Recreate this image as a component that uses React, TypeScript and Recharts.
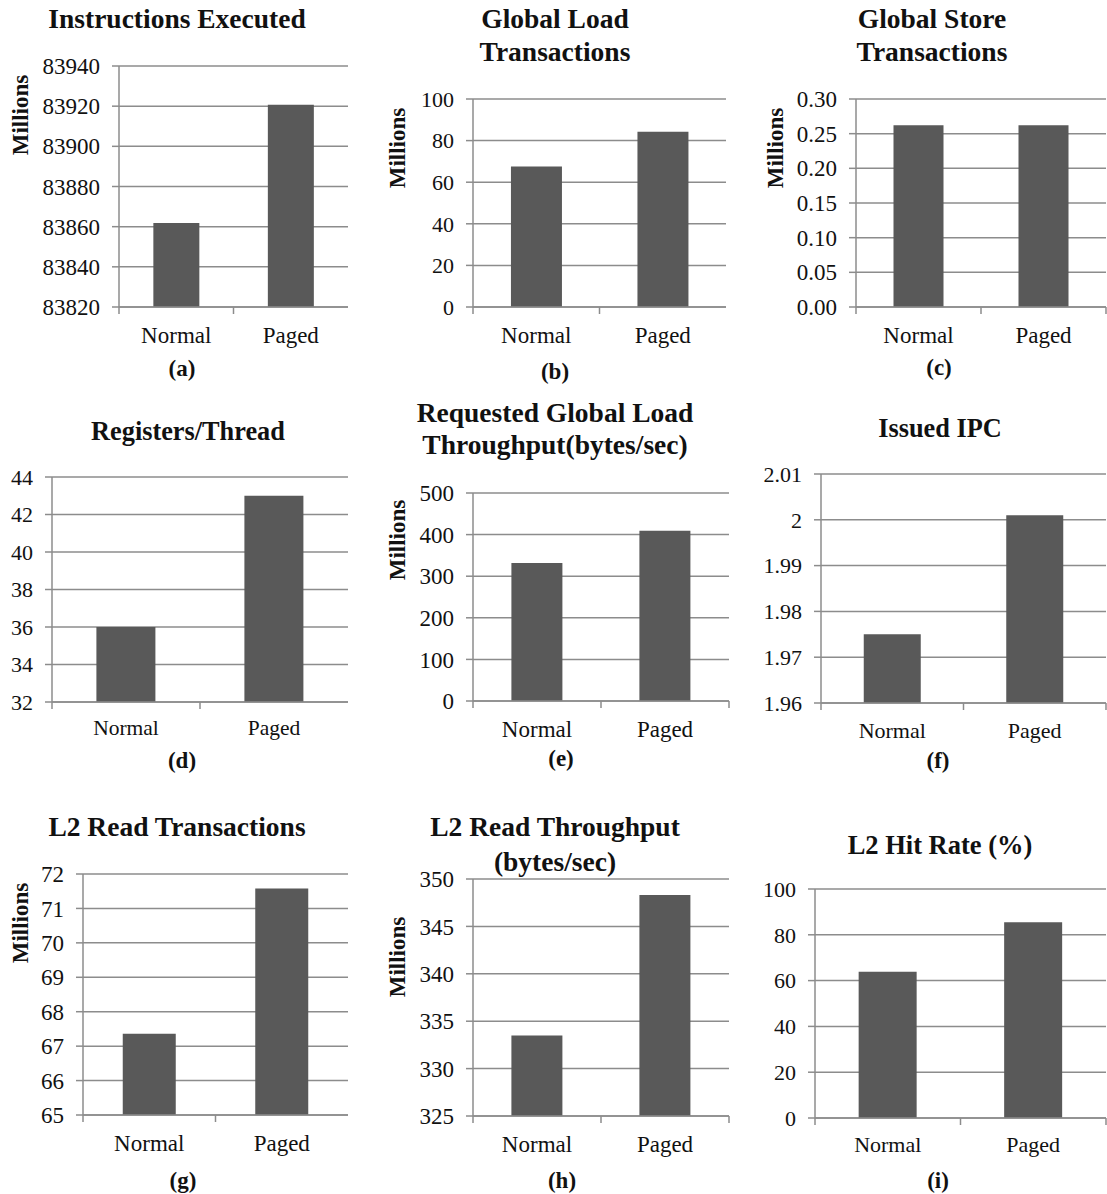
import React from 'react';
import { BarChart, Bar, XAxis, YAxis, CartesianGrid } from 'recharts';

const categories = ['Normal', 'Paged'];

// values (Millions where the panel says so)
const instructionsExecuted = [83861.8, 83920.7];
const globalLoadTransactions = [67.5, 84.3];
const globalStoreTransactions = [0.262, 0.262];
const registersPerThread = [36, 43];
const requestedGlobalLoadThroughput = [332, 409];
const issuedIpc = [1.975, 2.001];
const l2ReadTransactions = [67.36, 71.58];
const l2ReadThroughput = [333.5, 348.3];
const l2HitRate = [63.9, 85.5];

const ticksA = [83820, 83840, 83860, 83880, 83900, 83920, 83940];
const ticksB = [0, 20, 40, 60, 80, 100];
const ticksC = [0, 0.05, 0.1, 0.15, 0.2, 0.25, 0.3];
const ticksD = [32, 34, 36, 38, 40, 42, 44];
const ticksE = [0, 100, 200, 300, 400, 500];
const ticksF = [1.96, 1.97, 1.98, 1.99, 2, 2.01];
const ticksG = [65, 66, 67, 68, 69, 70, 71, 72];
const ticksH = [325, 330, 335, 340, 345, 350];
const ticksI = [0, 20, 40, 60, 80, 100];

const titles = [
  ['Instructions Executed'],
  ['Global Load', 'Transactions'],
  ['Global Store', 'Transactions'],
  ['Registers/Thread'],
  ['Requested Global Load', 'Throughput(bytes/sec)'],
  ['Issued IPC'],
  ['L2 Read Transactions'],
  ['L2 Read Throughput', '(bytes/sec)'],
  ['L2 Hit Rate (%)'],
];
const captions = ['(a)', '(b)', '(c)', '(d)', '(e)', '(f)', '(g)', '(h)', '(i)'];
const hasMillions = [true, true, true, false, true, false, true, true, false];

const FONT = '"Liberation Serif", "Times New Roman", serif';
const GRID = '#8c8c8c';
const BAR = '#595959';
const INK = '#111';

type Layout = {
  x0: number; x1: number; y0: number; y1: number;
  titleX: number; titleY: number[]; titleFont: number;
  capX: number; capY: number;
  millions?: [number, number];
  tickFont: number; catFont: number; catDy: number;
  rightTick?: boolean;
};

const layouts: Layout[] = [
  { x0: 119, x1: 348, y0: 66, y1: 307, titleX: 177, titleY: [19], titleFont: 27.5, capX: 182, capY: 368, millions: [20, 115], tickFont: 23, catFont: 23, catDy: 28 },
  { x0: 473, x1: 726, y0: 99, y1: 307, titleX: 555, titleY: [19, 52], titleFont: 27.5, capX: 555, capY: 371, millions: [397, 148], tickFont: 22, catFont: 23, catDy: 28 },
  { x0: 856, x1: 1106, y0: 99, y1: 307, titleX: 932, titleY: [19, 52], titleFont: 27.5, capX: 939, capY: 367, millions: [775, 148], tickFont: 23, catFont: 23, catDy: 28, rightTick: true },
  { x0: 52, x1: 348, y0: 477, y1: 702, titleX: 188, titleY: [432], titleFont: 26.3, capX: 182, capY: 760, tickFont: 22, catFont: 21.5, catDy: 26 },
  { x0: 473, x1: 729, y0: 493, y1: 701, titleX: 555, titleY: [413, 445], titleFont: 27.5, capX: 561, capY: 758, millions: [397, 540], tickFont: 23, catFont: 23, catDy: 28, rightTick: true },
  { x0: 821, x1: 1106, y0: 474, y1: 703, titleX: 940, titleY: [429], titleFont: 26.3, capX: 938, capY: 760, tickFont: 22, catFont: 22, catDy: 27, rightTick: true },
  { x0: 83, x1: 348, y0: 874, y1: 1115, titleX: 177, titleY: [827], titleFont: 27.5, capX: 183, capY: 1180, millions: [20, 923], tickFont: 23, catFont: 23, catDy: 28 },
  { x0: 473, x1: 729, y0: 879, y1: 1116, titleX: 555, titleY: [827, 862], titleFont: 27.5, capX: 562, capY: 1180, millions: [397, 957], tickFont: 23, catFont: 23, catDy: 28, rightTick: true },
  { x0: 815, x1: 1106, y0: 889, y1: 1118, titleX: 940, titleY: [845], titleFont: 26.5, capX: 938, capY: 1180, tickFont: 22, catFont: 22, catDy: 26, rightTick: true },
];

const series = [
  instructionsExecuted, globalLoadTransactions, globalStoreTransactions,
  registersPerThread, requestedGlobalLoadThroughput, issuedIpc,
  l2ReadTransactions, l2ReadThroughput, l2HitRate,
];
const tickSets = [ticksA, ticksB, ticksC, ticksD, ticksE, ticksF, ticksG, ticksH, ticksI];
const formats: ((v: number) => string)[] = [
  v => String(v), v => String(v), v => v.toFixed(2),
  v => String(v), v => String(v), v => String(v),
  v => String(v), v => String(v), v => String(v),
];

const TICK_LEN = 7;
const TOP_PAD = 20;
const Y_W = 100;

const Txt = ({ x, y, size, bold, rotate, children }: any) => (
  <div
    style={{
      position: 'absolute', left: x, top: y,
      transform: `translate(-50%, -50%)${rotate ? ' rotate(-90deg)' : ''}`,
      whiteSpace: 'nowrap', fontFamily: FONT, fontSize: size, lineHeight: 1,
      fontWeight: bold ? 'bold' : 'normal', color: INK,
    }}
  >
    {children}
  </div>
);

const CategoryTick = (props: any) => {
  const { x, y, payload, index, lay, count } = props;
  const half = payload?.offset || (lay.x1 - lay.x0) / 4;
  const axisY = y - TICK_LEN;
  return (
    <g>
      <line x1={x - half} x2={x - half} y1={axisY} y2={axisY + TICK_LEN} stroke={GRID} strokeWidth={1.5} />
      {lay.rightTick && index === count - 1 && (
        <line x1={x + half} x2={x + half} y1={axisY} y2={axisY + TICK_LEN} stroke={GRID} strokeWidth={1.5} />
      )}
      <text x={x} y={axisY + lay.catDy} textAnchor="middle" dominantBaseline="central"
        fontFamily={FONT} fontSize={lay.catFont} fill={INK}>
        {payload.value}
      </text>
    </g>
  );
};

const Panel = ({ idx }: { idx: number }) => {
  const lay = layouts[idx];
  const ticks = tickSets[idx];
  const data = categories.map((c, i) => ({ name: c, value: series[idx][i] }));
  const width = lay.x1 - lay.x0 + Y_W + 2;
  const height = lay.y1 - lay.y0 + TOP_PAD + 50;
  return (
    <>
      <div style={{ position: 'absolute', left: lay.x0 - Y_W, top: lay.y0 - TOP_PAD }}>
        <BarChart width={width} height={height} data={data}
          margin={{ top: TOP_PAD, right: 2, left: 0, bottom: 0 }} barCategoryGap="30%">
          <CartesianGrid vertical={false} stroke={GRID} strokeWidth={1.5} />
          <XAxis dataKey="name" height={50} interval={0}
            axisLine={{ stroke: GRID, strokeWidth: 1.5 }} tickLine={false}
            tickSize={TICK_LEN} tickMargin={0}
            tick={(p: any) => <CategoryTick {...p} lay={lay} count={categories.length} />} />
          <YAxis width={Y_W} type="number" domain={[ticks[0], ticks[ticks.length - 1]]}
            ticks={ticks} interval={0} allowDataOverflow tickFormatter={formats[idx]}
            axisLine={{ stroke: GRID, strokeWidth: 1.5 }}
            tickLine={{ stroke: GRID, strokeWidth: 1.5 }}
            tickSize={TICK_LEN} tickMargin={12}
            tick={{ fill: INK, fontSize: lay.tickFont, fontFamily: FONT }} />
          <Bar dataKey="value" fill={BAR} isAnimationActive={false} />
        </BarChart>
      </div>
      {titles[idx].map((line, k) => (
        <Txt key={k} x={lay.titleX} y={lay.titleY[k]} size={lay.titleFont} bold>{line}</Txt>
      ))}
      {hasMillions[idx] && lay.millions && (
        <Txt x={lay.millions[0]} y={lay.millions[1]} size={23} bold rotate>Millions</Txt>
      )}
      <Txt x={lay.capX} y={lay.capY} size={23} bold>{captions[idx]}</Txt>
    </>
  );
};

export default function App() {
  return (
    <div style={{ position: 'absolute', left: 0, top: 0, width: 1107, height: 1194, overflow: 'hidden', background: '#fff' }}>
      {layouts.map((_, i) => <Panel key={i} idx={i} />)}
    </div>
  );
}
